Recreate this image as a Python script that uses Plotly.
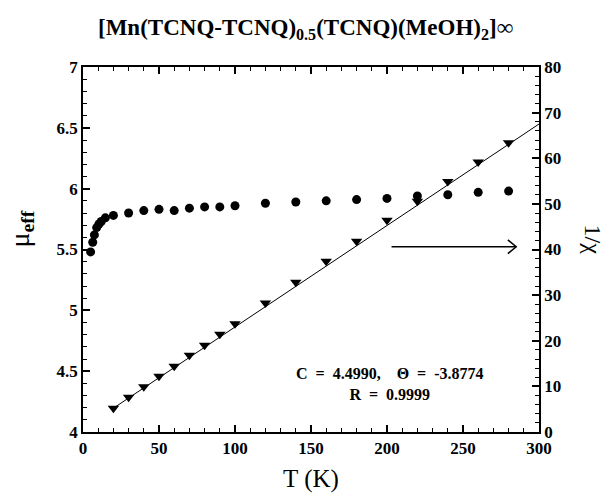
import plotly.graph_objects as go

# mu_eff data (circles)
T_mu = [5, 6.4, 7.5, 9, 10.5, 12, 14.7, 20, 30, 40, 50, 60, 70, 80, 90, 100,
        120, 140, 160, 180, 200, 220, 240, 260, 280]
mu_eff = [5.48, 5.56, 5.62, 5.68, 5.71, 5.73, 5.76, 5.78, 5.80, 5.82, 5.83, 5.82, 5.84, 5.85, 5.85, 5.86,
          5.88, 5.89, 5.90, 5.91, 5.92, 5.94, 5.95, 5.97, 5.98]

# 1/chi data (triangles)
T_chi = [20, 30, 40, 50, 60, 70, 80, 90, 100, 120, 140, 160, 180, 200, 220, 240, 260, 280]
inv_chi = [5.2, 7.6, 9.9, 12.2, 14.4, 16.8, 19.0, 21.4, 23.7, 28.3, 32.8, 37.4, 41.8, 46.4, 50.6, 54.9, 59.2, 63.4]

# Curie-Weiss fit line endpoints
fit_T = [19, 300]
fit_inv_chi = [5.0, 67.5]

# arrow pointing to right axis
arrow_T = [203, 285]
arrow_y = 40.6

serif = "Liberation Serif"
fig = go.Figure()

fig.add_trace(go.Scatter(x=fit_T, y=fit_inv_chi, mode="lines", yaxis="y2",
                         line=dict(color="black", width=1), showlegend=False))
fig.add_trace(go.Scatter(x=T_chi, y=inv_chi, mode="markers", yaxis="y2",
                         marker=dict(symbol="triangle-down", size=10, color="black"),
                         showlegend=False))
fig.add_trace(go.Scatter(x=T_mu, y=mu_eff, mode="markers",
                         marker=dict(symbol="circle", size=9, color="black"),
                         showlegend=False))
# arrow shaft and head
fig.add_trace(go.Scatter(x=arrow_T, y=[arrow_y, arrow_y], mode="lines", yaxis="y2",
                         line=dict(color="black", width=1.5), showlegend=False))
fig.add_trace(go.Scatter(x=[arrow_T[1] - 5.5, arrow_T[1], arrow_T[1] - 5.5],
                         y=[arrow_y + 1.5, arrow_y, arrow_y - 1.5], mode="lines", yaxis="y2",
                         line=dict(color="black", width=1.5), showlegend=False))
# invisible trace to carry the top x axis
fig.add_trace(go.Scatter(x=[0], y=[4], xaxis="x2", mode="markers",
                         marker=dict(opacity=0), showlegend=False, hoverinfo="skip"))

bold_tick = dict(family=serif, size=17, color="black", weight="bold")

fig.update_layout(
    width=609, height=497,
    margin=dict(l=83, r=70, t=67, b=65),
    paper_bgcolor="white", plot_bgcolor="white",
    font=dict(family=serif, color="black"),
    xaxis=dict(range=[0, 300], dtick=50, tick0=0, ticks="inside", ticklen=7, tickwidth=1.5,
               tickcolor="black", automargin=False,
               showline=True, linecolor="black", linewidth=1.5,
               showgrid=False, zeroline=False,
               minor=dict(dtick=10, ticks="inside", ticklen=4, tickwidth=1.2, tickcolor="black"),
               tickfont=bold_tick,
               title=dict(text="T (K)", font=dict(family=serif, size=25, color="black"), standoff=12)),
    xaxis2=dict(range=[0, 300], dtick=50, tick0=0, ticks="inside", ticklen=7, tickwidth=1.5,
                tickcolor="black", automargin=False, overlaying="x", side="top",
                showticklabels=False,
                showline=True, linecolor="black", linewidth=1.5,
                showgrid=False, zeroline=False,
                minor=dict(dtick=10, ticks="inside", ticklen=4, tickwidth=1.2, tickcolor="black")),
    yaxis=dict(range=[4, 7], dtick=0.5, tick0=4, ticks="inside", ticklen=7, tickwidth=1.5,
               tickcolor="black", automargin=False,
               showline=True, linecolor="black", linewidth=1.5,
               showgrid=False, zeroline=False,
               minor=dict(dtick=0.1, ticks="inside", ticklen=4, tickwidth=1.2, tickcolor="black"),
               tickfont=bold_tick),
    yaxis2=dict(range=[0, 80], dtick=10, tick0=0, ticks="inside", ticklen=7, tickwidth=1.5,
                tickcolor="black", automargin=False,
                overlaying="y", side="right",
                showline=True, linecolor="black", linewidth=1.5,
                showgrid=False, zeroline=False,
                minor=dict(dtick=2, ticks="inside", ticklen=4, tickwidth=1.2, tickcolor="black"),
                tickfont=bold_tick),
)

fig.add_annotation(text="<b>[Mn(TCNQ-TCNQ)<sub>0.5</sub>(TCNQ)(MeOH)<sub>2</sub>]∞</b>",
                   xref="paper", yref="paper", x=0.5, y=1.0, yshift=38, xshift=-6,
                   showarrow=False, font=dict(family=serif, size=23, color="black"),
                   xanchor="center", yanchor="middle")
fig.add_annotation(text="μ<sub><b>eff</b></sub>", xref="paper", yref="paper",
                   x=0, y=0.5, xshift=-62, yshift=20, textangle=-90, showarrow=False,
                   font=dict(family=serif, size=28, color="black"),
                   xanchor="center", yanchor="middle")
fig.add_annotation(text="1/χ", xref="paper", yref="paper",
                   x=1, y=0.5, xshift=54, yshift=10, textangle=90, showarrow=False,
                   font=dict(family=serif, size=24, color="black"),
                   xanchor="center", yanchor="middle")
fig.add_annotation(text="<b>C  =  4.4990,    Θ  =  -3.8774</b><br><b>R  =  0.9999</b>",
                   xref="x", yref="y2", x=202, y=10.5, showarrow=False,
                   font=dict(family=serif, size=16, color="black"),
                   xanchor="center", yanchor="middle", align="center")

fig.write_html("out.html", config={"displayModeBar": False},
               post_script="document.body.style.margin='0';document.body.style.padding='0';")
